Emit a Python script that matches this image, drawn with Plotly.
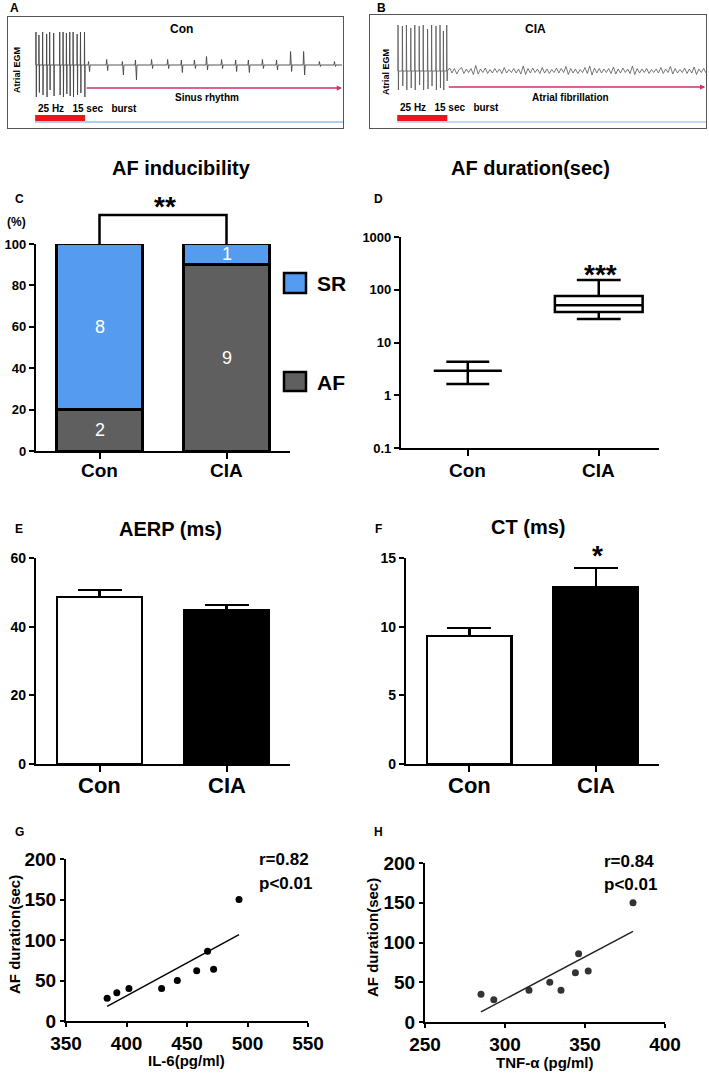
import numpy as np
import plotly.graph_objects as go

W, H = 709, 1075
FONT = "Liberation Sans, Arial, Helvetica, sans-serif"

# ---------------- data ----------------
groups = ["Con", "CIA"]

# Panel A (Con) EGM: burst spikes and sinus beats (time in s, amplitude in mV-ish)
con_burst_t = [8.4, 9.3, 10.4, 11.6, 12.5, 13.7, 15.5, 16.5, 17.5, 18.5, 19.5, 20.7, 21.7, 22.9]
con_burst_hi = [0.66, 0.60, 0.66, 0.62, 0.66, 0.64, 0.66, 0.66, 0.64, 0.66, 0.66, 0.62, 0.66, 0.66]
con_burst_lo = [-0.64, -0.55, -0.60, -0.64, -0.50, -0.62, -0.60, -0.64, -0.58, -0.62, -0.64, -0.60, -0.56, -0.64]
con_beat_t = [24.2, 29.6, 34.3, 38.2, 43.0, 47.8, 51.9, 55.8, 59.4, 63.9, 68.1, 71.9, 76.1, 80.3, 84.5, 88.4, 93.1, 97.6]
con_beat_hi = [0.07, 0.11, 0.07, 0.10, 0.11, 0.11, 0.10, 0.10, 0.17, 0.11, 0.10, 0.10, 0.11, 0.10, 0.27, 0.27, 0.07, 0.07]
con_beat_lo = [-0.13, -0.11, -0.20, -0.30, -0.07, -0.07, -0.15, -0.07, -0.10, -0.07, -0.13, -0.15, -0.07, -0.10, -0.13, -0.20, -0.03, -0.03]

# Panel B (CIA) EGM: burst spikes then fibrillation samples
cia_burst_t = [8.4, 9.7, 10.9, 12.2, 13.4, 14.7, 15.9, 17.2, 18.4, 19.7, 20.9, 21.9, 22.9]
cia_burst_hi = [0.92, 0.90, 0.92, 0.86, 0.92, 0.90, 0.92, 0.84, 0.92, 0.90, 0.92, 0.80, 0.92]
cia_burst_lo = [-0.38, -0.30, -0.38, -0.34, -0.38, -0.28, -0.38, -0.36, -0.30, -0.38, -0.34, -0.38, -0.20]
cia_af_samples = [0.00, 0.06, -0.04, 0.05, -0.06, 0.03, 0.07, -0.05, 0.04, -0.03,
                  0.05, -0.07, 0.11, -0.06, 0.04, -0.03, 0.06, -0.05, 0.03, -0.04,
                  0.05, -0.03, 0.04, -0.05, 0.07, -0.04, 0.03, -0.03, 0.05, -0.04,
                  0.04, -0.06, 0.10, -0.07, 0.05, -0.04, 0.06, -0.03, 0.04, -0.05,
                  0.07, -0.04, 0.04, -0.05, 0.03, -0.03, 0.06, -0.04, 0.05, -0.03,
                  0.09, -0.07, 0.05, -0.04, 0.04, -0.05, 0.03, -0.03, 0.07, -0.05,
                  0.10, -0.08, 0.06, -0.04, 0.05, -0.04, 0.04, -0.03, 0.05, -0.05,
                  0.08, -0.06, 0.04, -0.04, 0.06, -0.03, 0.04, -0.05, 0.10, -0.07,
                  0.05, -0.04, 0.04, -0.03, 0.05, -0.05, 0.03, -0.03, 0.04, -0.04,
                  0.07, -0.05, 0.04, -0.03, 0.09, -0.06, 0.05, -0.04, 0.03, -0.03,
                  0.06, -0.05, 0.04, -0.04, 0.08, -0.07, 0.04, -0.03, 0.05, -0.04]
burst_start, burst_end, trace_end = 8.1, 23.0, 99.7

# Panel C: AF inducibility (%), counts
af_pct = [20, 90]
sr_pct = [80, 10]
af_n = [2, 9]
sr_n = [8, 1]

# Panel D: AF duration (sec), box summaries
dur_q1 = [2.9, 38]
dur_med = [2.9, 51]
dur_q3 = [2.9, 76]
dur_low = [1.63, 28]
dur_high = [4.3, 153]

# Panel E: AERP (ms)
aerp_mean = [48.6, 44.9]
aerp_sem = [2.1, 1.4]

# Panel F: CT (ms)
ct_mean = [9.32, 12.89]
ct_sem = [0.58, 1.38]

# Panel G / H correlations
il6 = [384, 392, 402, 429, 442, 458, 467, 472, 493]
dur_g = [28, 35, 40, 40, 50, 62, 86, 64, 150]
tnf = [285, 293, 315, 328, 335, 344, 346, 352, 380]
dur_h = [35, 28, 40, 50, 40, 62, 86, 64, 150]

# tick values
c_yticks = [0, 20, 40, 60, 80, 100]
d_yticks = [0.1, 1, 10, 100, 1000]
e_yticks = [0, 20, 40, 60]
f_yticks = [0, 5, 10, 15]
g_xticks = [350, 400, 450, 500, 550]
h_xticks = [250, 300, 350, 400]
gh_yticks = [0, 50, 100, 150, 200]

# colours
C_SR = "#559BEF"
C_AF = "#5F5F5F"

# ---------------- helpers ----------------
fig = go.Figure()
layout = dict(width=W, height=H, margin=dict(l=0, r=0, t=0, b=0, autoexpand=False),
              paper_bgcolor="white", plot_bgcolor="rgba(0,0,0,0)",
              showlegend=False, font=dict(family=FONT, color="black"),
              boxmode="overlay", barmode="stack")
annotations = []
shapes = []


def btxt(vals):
    return ["<b>%s</b>" % v for v in vals]


def add_axes(n, xl, xr, yt, yb, xopts, yopts):
    sfx = "" if n == 1 else str(n)
    layout["xaxis" + sfx] = dict(domain=[xl / W, xr / W], anchor="y" + sfx, automargin=False, **xopts)
    layout["yaxis" + sfx] = dict(domain=[1 - yb / H, 1 - yt / H], anchor="x" + sfx, automargin=False, **yopts)


def sty(size=13, **kw):
    d = dict(showline=True, linecolor="black", linewidth=2.2, ticks="outside",
             ticklen=5, tickwidth=2, tickcolor="black", showgrid=False,
             zeroline=False, fixedrange=True,
             tickfont=dict(family=FONT, size=size, color="black"))
    d.update(kw)
    return d


def egm_style(rng_y):
    return (dict(range=[0, 100], showline=True, mirror=True, linecolor="#555", linewidth=1,
                 showticklabels=False, ticks="", showgrid=False, zeroline=False),
            dict(range=rng_y, showline=True, mirror=True, linecolor="#555", linewidth=1,
                 showticklabels=False, ticks="", showgrid=False, zeroline=False))


def ann(xp, yp, text, size, bold=True, xanchor="center", yanchor="middle",
        color="black", angle=0):
    annotations.append(dict(x=xp / W, y=1 - yp / H, xref="paper", yref="paper",
                            text=("<b>%s</b>" % text) if bold else text,
                            showarrow=False, xanchor=xanchor, yanchor=yanchor,
                            textangle=angle,
                            font=dict(family=FONT, size=size, color=color)))


def cat_labels(xref, yp, size):
    for g in groups:
        annotations.append(dict(x=g, y=1 - yp / H, xref=xref, yref="paper",
                                text="<b>%s</b>" % g, showarrow=False,
                                xanchor="center", yanchor="middle",
                                font=dict(family=FONT, size=size, color="black")))


def spikes(ts, his, los, half):
    xs, ys = [], []
    for t, h, l in zip(ts, his, los):
        xs += [t - 2 * half, t - half, t + half, t + 2 * half]
        ys += [0, h, l, 0]
    return xs, ys


def cat_axis(rng=(-0.5, 1.5)):
    return sty(type="category", range=list(rng), ticklen=6, tickvals=groups,
               showticklabels=False)


BURST_TXT = "25 Hz&nbsp;&nbsp;&nbsp;15 sec&nbsp;&nbsp;&nbsp;burst"

# ---------------- Panel A ----------------
xa, ya = egm_style([-1.26, 0.96])
add_axes(1, 8, 343, 17, 128, xa, ya)
bx, by = spikes(con_burst_t, con_burst_hi, con_burst_lo, 0.06)
sx, sy = spikes(con_beat_t, con_beat_hi, con_beat_lo, 0.15)
fig.add_trace(go.Scatter(x=bx + sx + [trace_end], y=by + sy + [0], mode="lines",
                         line=dict(color="#444", width=0.9),
                         xaxis="x", yaxis="y", hoverinfo="skip"))
shapes.append(dict(type="rect", xref="x", yref="y", x0=burst_start, x1=burst_end,
                   y0=-1.12, y1=-1.0, fillcolor="#F01414", line=dict(width=0)))
shapes.append(dict(type="line", xref="x", yref="y", x0=burst_start, x1=100, y0=-1.14, y1=-1.14,
                   line=dict(color="#6A9AD8", width=1)))
annotations.append(dict(x=trace_end, y=-0.46, ax=burst_end, ay=-0.46, xref="x", yref="y",
                        axref="x", ayref="y", showarrow=True, arrowhead=2, arrowsize=0.7,
                        arrowwidth=1.5, arrowcolor="#C8336E", text=""))
ann(181, 29, "Con", 12)
ann(17, 70, "Atrial EGM", 9, angle=-90)
ann(207, 97, "Sinus rhythm", 10)
ann(36, 109, BURST_TXT, 10, xanchor="left")
ann(15, 8, "A", 12)

# ---------------- Panel B ----------------
xb, yb_ = egm_style([-1.14, 1.12])
add_axes(2, 370, 706, 15, 128, xb, yb_)
bx2, by2 = spikes(cia_burst_t, cia_burst_hi, cia_burst_lo, 0.06)
af_t = list(np.linspace(burst_end, 100, len(cia_af_samples)))
fig.add_trace(go.Scatter(x=bx2 + af_t, y=by2 + cia_af_samples, mode="lines",
                         line=dict(color="#555", width=0.8),
                         xaxis="x2", yaxis="y2", hoverinfo="skip"))
shapes.append(dict(type="rect", xref="x2", yref="y2", x0=burst_start, x1=burst_end,
                   y0=-1.0, y1=-0.88, fillcolor="#F01414", line=dict(width=0)))
shapes.append(dict(type="line", xref="x2", yref="y2", x0=burst_start, x1=100, y0=-1.02, y1=-1.02,
                   line=dict(color="#8FB0DA", width=1)))
annotations.append(dict(x=99.8, y=-0.32, ax=burst_end, ay=-0.32, xref="x2", yref="y2",
                        axref="x2", ayref="y2", showarrow=True, arrowhead=2, arrowsize=0.7,
                        arrowwidth=1.5, arrowcolor="#C8336E", text=""))
ann(535, 29, "CIA", 12)
ann(386, 72, "Atrial EGM", 9, angle=-90)
ann(570, 97, "Atrial fibrillation", 10)
ann(398, 108, BURST_TXT, 10, xanchor="left")
ann(381, 8, "B", 12)

# ---------------- Panel C ----------------
add_axes(3, 36, 290, 244, 451, cat_axis(),
         sty(size=13, range=[0, 100], tickvals=c_yticks, ticktext=btxt(c_yticks)))
fig.add_trace(go.Bar(x=groups, y=af_pct, width=0.68, marker=dict(color=C_AF, line=dict(color="black", width=2.5)),
                     xaxis="x3", yaxis="y3", cliponaxis=False, hoverinfo="skip"))
fig.add_trace(go.Bar(x=groups, y=sr_pct, width=0.68, marker=dict(color=C_SR, line=dict(color="black", width=2.5)),
                     xaxis="x3", yaxis="y3", cliponaxis=False, hoverinfo="skip"))
for g, a, s, na, ns in zip(groups, af_pct, sr_pct, af_n, sr_n):
    annotations.append(dict(x=g, y=a / 2, xref="x3", yref="y3", text=str(na), showarrow=False,
                            font=dict(family=FONT, size=18, color="white")))
    annotations.append(dict(x=g, y=a + s / 2, xref="x3", yref="y3", text=str(ns), showarrow=False,
                            font=dict(family=FONT, size=18, color="white")))
shapes.append(dict(type="path", xref="x3", yref="paper",
                   path="M 0,%f L 0,%f L 1,%f L 1,%f" % (1 - 244 / H, 1 - 215 / H, 1 - 215 / H, 1 - 244 / H),
                   line=dict(color="black", width=2.5)))
cat_labels("x3", 470, 19)
ann(165, 207, "**", 28)
ann(181, 168, "AF inducibility", 20)
ann(19, 199, "C", 12)
ann(16, 222, "(%)", 12)
for (top, bot, col, lab, ty) in [(273, 293, C_SR, "SR", 283), (372, 391, C_AF, "AF", 382)]:
    shapes.append(dict(type="rect", xref="paper", yref="paper", x0=284 / W, x1=306 / W,
                       y0=1 - bot / H, y1=1 - top / H, fillcolor=col,
                       line=dict(color="black", width=2.5)))
    ann(315, ty, lab, 21, xanchor="left")

# ---------------- Panel D ----------------
add_axes(4, 401, 659, 237, 448, cat_axis((-0.51, 1.46)),
         sty(size=13, type="log", range=[-1, 3], tickvals=d_yticks, ticktext=btxt(d_yticks)))
box_w = [0.52, 0.67]
whisk = [0.63, 0.5]
for i, g in enumerate(groups):
    fig.add_trace(go.Box(x=[g], q1=[dur_q1[i]], median=[dur_med[i]], q3=[dur_q3[i]],
                         lowerfence=[dur_low[i]], upperfence=[dur_high[i]],
                         width=box_w[i], whiskerwidth=whisk[i], boxpoints=False,
                         fillcolor="white", line=dict(color="black", width=2.5),
                         xaxis="x4", yaxis="y4", hoverinfo="skip"))
cat_labels("x4", 470, 19)
ann(530, 168, "AF duration(sec)", 20)
ann(379, 199, "D", 12)
ann(600, 274, "***", 28)

# ---------------- Panel E ----------------
add_axes(5, 36, 290, 558, 764, cat_axis(),
         sty(size=14, range=[0, 60], tickvals=e_yticks, ticktext=btxt(e_yticks)))
fig.add_trace(go.Bar(x=groups, y=aerp_mean, width=0.67,
                     marker=dict(color=["white", "black"], line=dict(color="black", width=2.5)),
                     error_y=dict(type="data", array=aerp_sem, arrayminus=[0, 0], symmetric=False,
                                  color="black", thickness=2.5, width=22),
                     xaxis="x5", yaxis="y5", cliponaxis=False, hoverinfo="skip"))
cat_labels("x5", 785, 22)
ann(170, 529, "AERP (ms)", 20)
ann(19, 529, "E", 12)

# ---------------- Panel F ----------------
add_axes(6, 406, 659, 558, 764, cat_axis(),
         sty(size=14, range=[0, 15], tickvals=f_yticks, ticktext=btxt(f_yticks)))
fig.add_trace(go.Bar(x=groups, y=ct_mean, width=0.67,
                     marker=dict(color=["white", "black"], line=dict(color="black", width=2.5)),
                     error_y=dict(type="data", array=ct_sem, arrayminus=[0, 0], symmetric=False,
                                  color="black", thickness=2.5, width=22),
                     xaxis="x6", yaxis="y6", cliponaxis=False, hoverinfo="skip"))
cat_labels("x6", 785, 22)
ann(528, 527, "CT (ms)", 20)
ann(379, 529, "F", 12)
ann(597, 555, "*", 28)

# ---------------- Panel G ----------------
add_axes(7, 66, 308, 859, 1021,
         sty(size=19, range=[350, 550], tickvals=g_xticks, ticktext=btxt(g_xticks), ticklen=4),
         sty(size=19, range=[0, 200], tickvals=gh_yticks, ticktext=btxt(gh_yticks), ticklen=4))
fig.add_trace(go.Scatter(x=il6, y=dur_g, mode="markers", marker=dict(color="black", size=7),
                         xaxis="x7", yaxis="y7", cliponaxis=False, hoverinfo="skip"))
k, b = np.polyfit(il6, dur_g, 1)
lx = [min(il6), max(il6)]
fig.add_trace(go.Scatter(x=lx, y=[k * v + b for v in lx], mode="lines",
                         line=dict(color="black", width=1.5), xaxis="x7", yaxis="y7", hoverinfo="skip"))
ann(19, 832, "G", 12)
ann(15, 935, "AF duration(sec)", 15, angle=-90)
ann(187, 1060, "IL-6(pg/ml)", 15)
ann(257, 859, "r=0.82", 17, xanchor="left")
ann(257, 883, "p&lt;0.01", 17, xanchor="left")

# ---------------- Panel H ----------------
add_axes(8, 425, 665, 863, 1022,
         sty(size=19, range=[250, 400], tickvals=h_xticks, ticktext=btxt(h_xticks), ticklen=4),
         sty(size=19, range=[0, 200], tickvals=gh_yticks, ticktext=btxt(gh_yticks), ticklen=4))
fig.add_trace(go.Scatter(x=tnf, y=dur_h, mode="markers", marker=dict(color="#333", size=7),
                         xaxis="x8", yaxis="y8", cliponaxis=False, hoverinfo="skip"))
k2, b2 = np.polyfit(tnf, dur_h, 1)
lx2 = [min(tnf), max(tnf)]
fig.add_trace(go.Scatter(x=lx2, y=[k2 * v + b2 for v in lx2], mode="lines",
                         line=dict(color="#222", width=1.5), xaxis="x8", yaxis="y8", hoverinfo="skip"))
ann(379, 832, "H", 12)
ann(372, 938, "AF duration(sec)", 15, angle=-90)
ann(545, 1062, "TNF-α (pg/ml)", 15)
ann(602, 861, "r=0.84", 17, xanchor="left")
ann(602, 884, "p&lt;0.01", 17, xanchor="left")

layout["annotations"] = annotations
layout["shapes"] = shapes
fig.update_layout(**layout)
fig.write_html("out.html", config={"displayModeBar": False},
               post_script="document.body.style.margin='0px';document.body.style.overflow='hidden';")
